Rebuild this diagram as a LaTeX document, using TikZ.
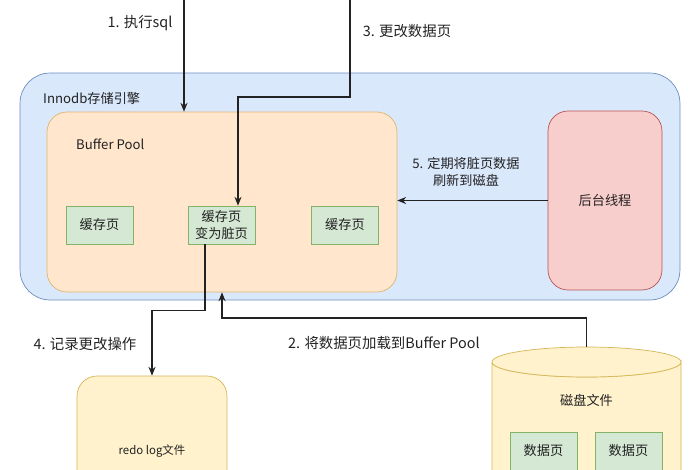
\documentclass[tikz,border=0pt]{standalone}
\usepackage{fontspec}
\setmainfont{Noto Sans CJK SC}
\usepackage{xcolor}
\usepackage{tikz}
\usetikzlibrary{positioning,calc,arrows.meta}

\definecolor{engfill}{HTML}{DAE8FC}
\definecolor{engline}{HTML}{6C8EBF}
\definecolor{poolfill}{HTML}{FFE6CC}
\definecolor{poolline}{HTML}{E0B46E}
\definecolor{pagefill}{HTML}{D5E8D4}
\definecolor{pageline}{HTML}{82B366}
\definecolor{thrfill}{HTML}{F8CECC}
\definecolor{thrline}{HTML}{B85450}
\definecolor{logfill}{HTML}{FFF2CC}
\definecolor{logline}{HTML}{D6B656}
\definecolor{txt}{HTML}{222222}

\begin{document}
\begin{tikzpicture}[x=0.02cm, y=0.02cm,
        font=\fontsize{7.5}{9.5}\selectfont, text=txt,
        engine/.style={draw=engline, fill=engfill, rounded corners=0.6cm, minimum width=13.2cm, minimum height=4.54cm},
        pool/.style={draw=poolline, fill=poolfill, rounded corners=0.4cm, minimum width=7cm, minimum height=3.6cm},
        page/.style={draw=pageline, fill=pagefill, minimum width=1.34cm, minimum height=0.76cm, align=center, inner sep=1pt},
        worker/.style={draw=thrline, fill=thrfill, rounded corners=0.4cm, minimum width=2.28cm, minimum height=3.58cm},
        logfile/.style={draw=logline, fill=logfill, rounded corners=0.4cm, minimum width=3cm, minimum height=3cm},
        disk/.style={draw=logline, fill=logfill},
        step label/.style={font=\fontsize{8.2}{10}\selectfont, align=center},
        flow/.style={->, draw=txt, thick},
        >={Stealth[length=5pt,width=4pt]}
    ]
        \useasboundingbox (0,0) rectangle (700,-470);
        \clip (0,0) rectangle (700,-470);

        % storage engine
        \node [engine] (innodb) at (350,-186.5) {};
        \node [anchor=west] (innodbname) at (37,-98) {Innodb存储引擎};

        % buffer pool and its pages
        \node [pool] (pool) at (222,-202) {};
        \node [anchor=west] (poolname) at (70,-144) {Buffer Pool};
        \node [page] (page1) at (99.5,-225) {缓存页};
        \node [page] (dirty) at (221.5,-225) {缓存页\\变为脏页};
        \node [page] (page3) at (345,-225) {缓存页};

        \node [worker] (thread) at (605,-200.5) {后台线程};

        % redo log and disk
        \node [logfile] (redo) at (152,-451) {\fontsize{6.5}{8}\selectfont redo log文件};

        \draw [disk] (492,-362) -- (492,-520) -- (681,-520) -- (681,-362)
            arc[start angle=0, end angle=-180, x radius=1.89cm, y radius=0.3cm];
        \draw [disk] (586.5,-362) ellipse [x radius=1.89cm, y radius=0.3cm];
        \coordinate (disktop) at (586.5,-347);
        \node (diskname) at (586.5,-400) {磁盘文件};
        \node [page] (data1) at (543.5,-451) {数据页};
        \node [page] (data2) at (628.5,-451) {数据页};

        % outside entry points
        \coordinate (sqlin) at (184,0);
        \coordinate (chgin) at (350,0);

        \draw [flow] (sqlin) -- (sqlin |- pool.north);
        \draw [flow] (chgin) -- ++(0,-97) -| ([xshift=0.33cm]dirty.north);
        \draw [flow] ([xshift=-0.33cm]dirty.south) -- ++(0,-66) -| (redo.north);
        \draw [flow] (disktop) -- ++(0,29) -| (pool.south);
        \draw [flow] (thread.west) -- (thread.west -| pool.east);

        \node [step label] (l1) at (140,-23) {1. 执行sql};
        \node [step label] (l2) at (384,-343) {2. 将数据页加载到Buffer Pool};
        \node [step label] (l3) at (407,-31) {3. 更改数据页};
        \node [step label] (l4) at (85,-344) {4. 记录更改操作};
        \node [step label, font=\fontsize{7.5}{9.5}\selectfont] (l5) at (466,-172) {5. 定期将脏页数据\\刷新到磁盘};
    \end{tikzpicture}
\end{document}
